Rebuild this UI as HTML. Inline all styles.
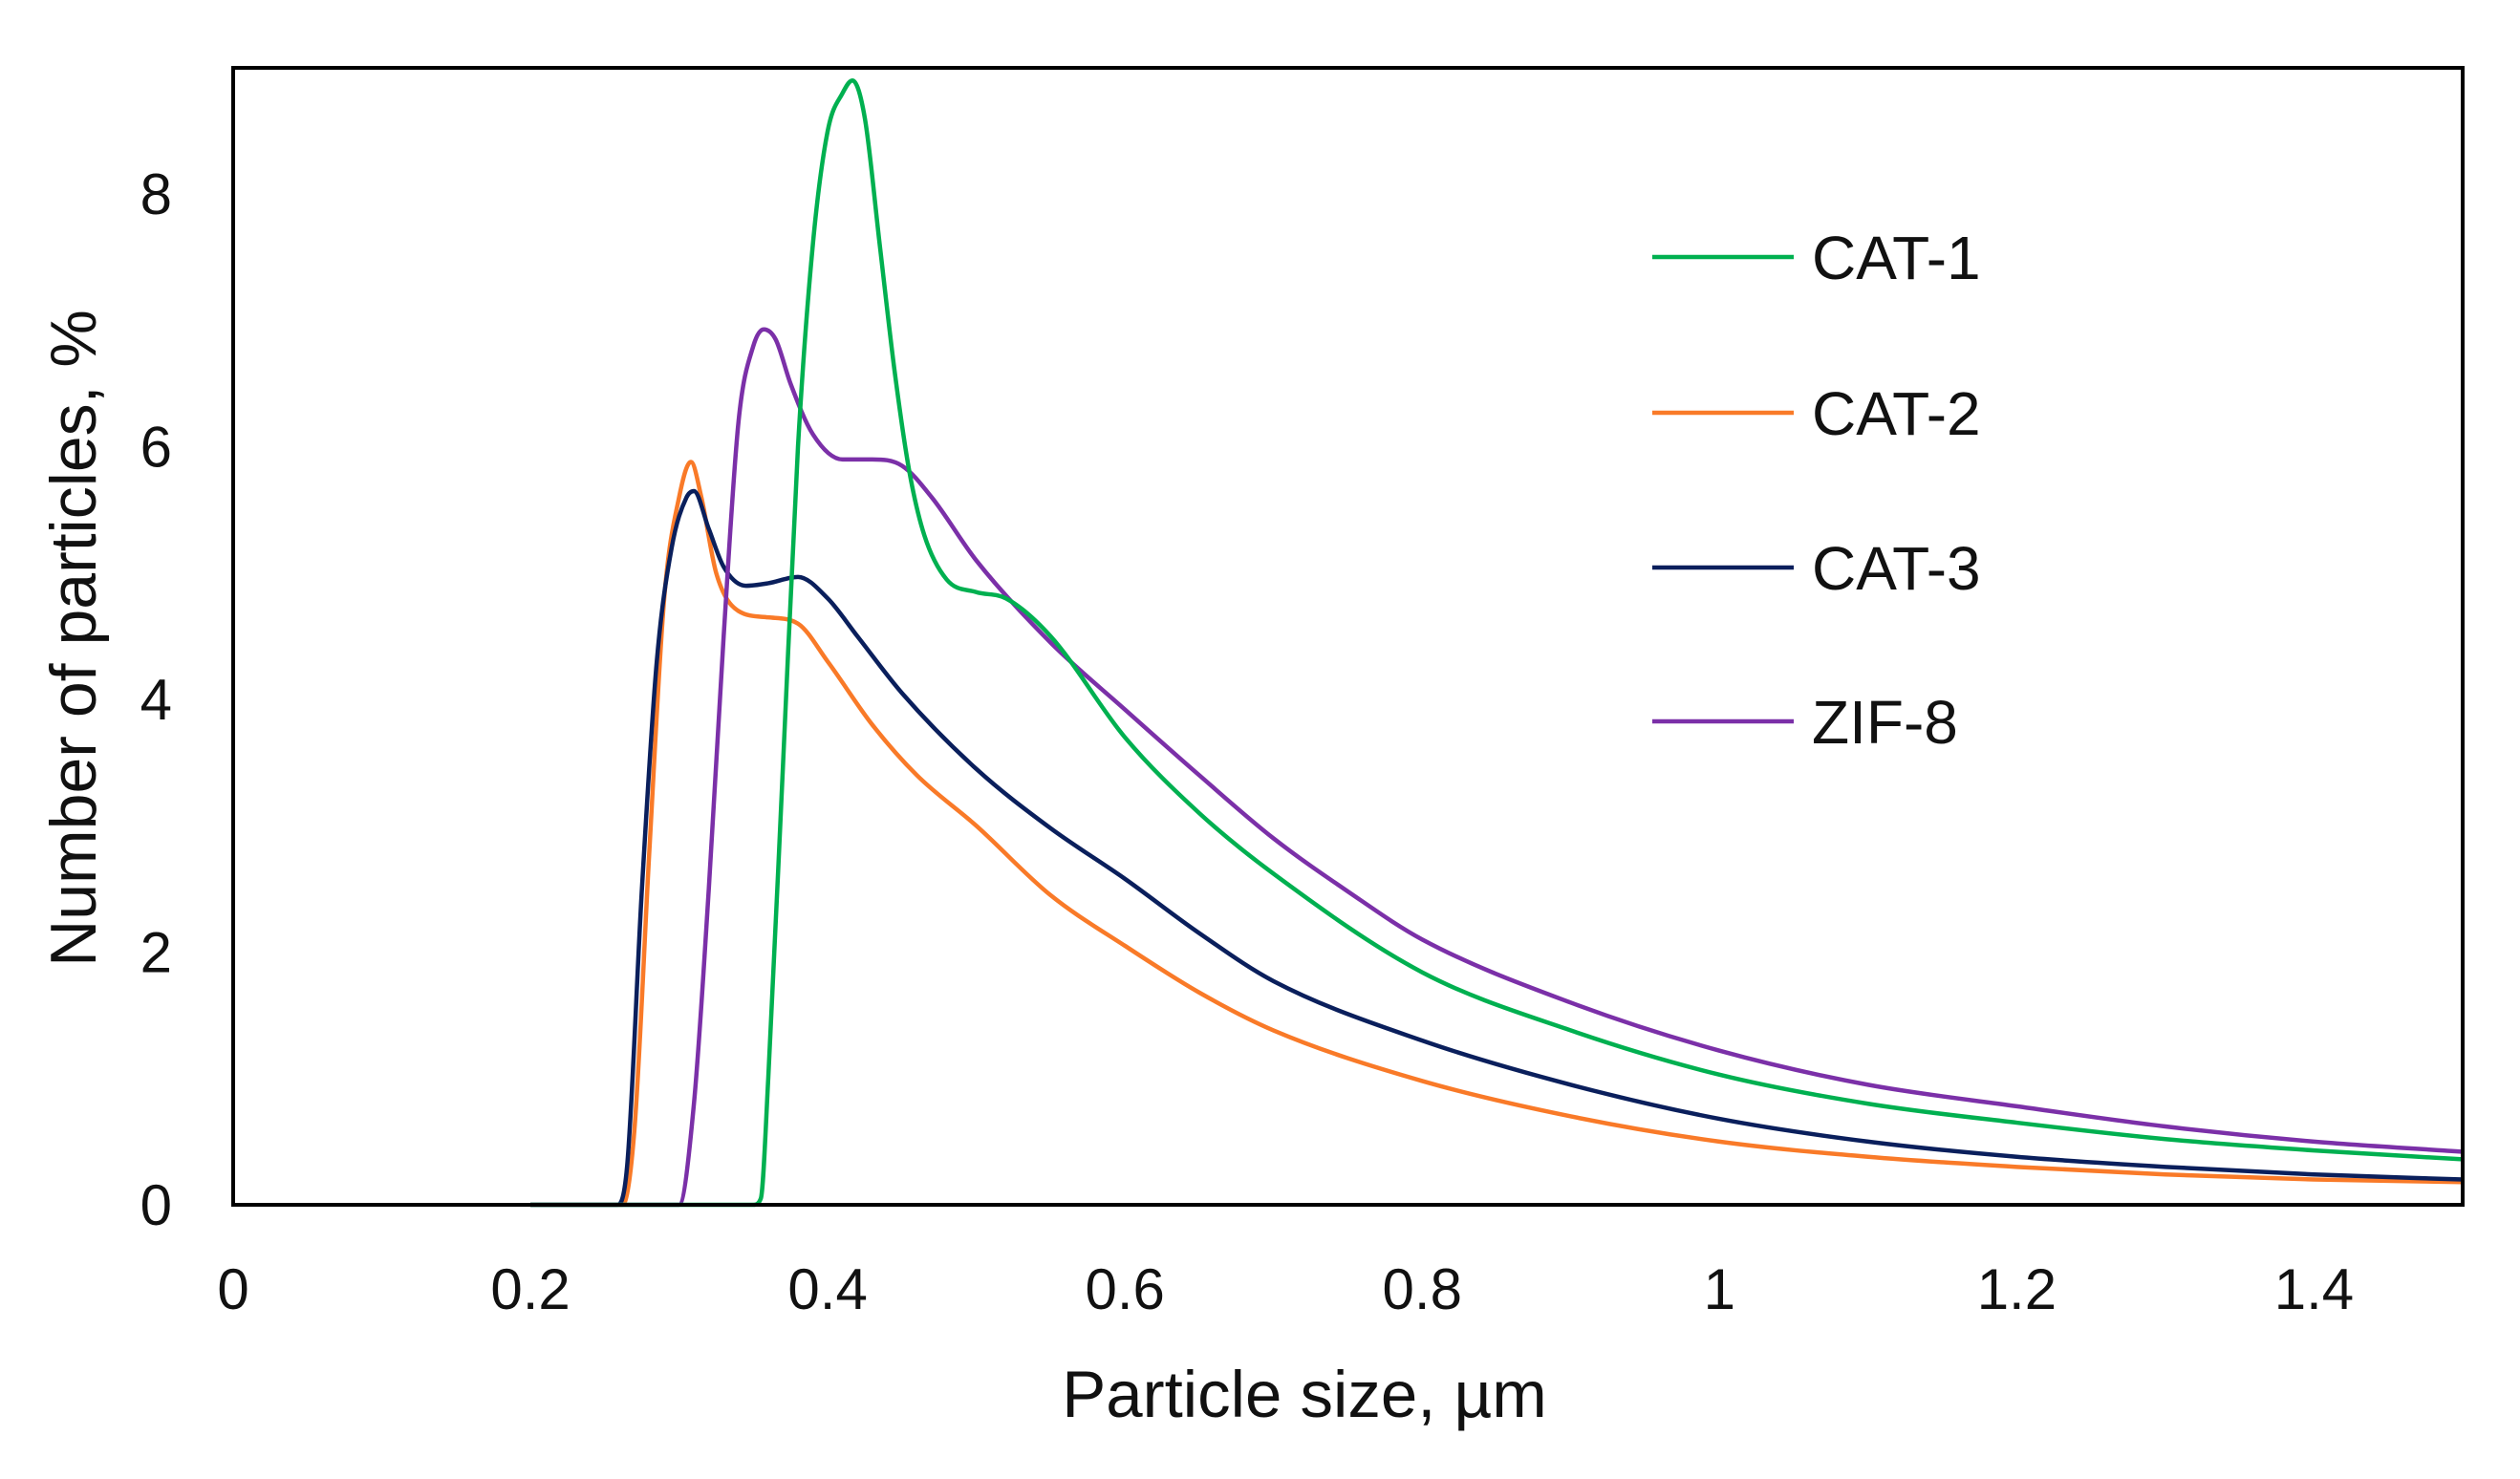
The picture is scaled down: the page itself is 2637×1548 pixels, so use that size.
<!DOCTYPE html>
<html><head><meta charset="utf-8"><style>
html,body{margin:0;padding:0;background:#fff;}
svg{display:block;font-family:"Liberation Sans",sans-serif;}
</style></head><body>
<svg id="chart" width="2637" height="1548" viewBox="0 0 2637 1548">
<g id="series"></g>
<rect x="244" y="71" width="2333" height="1190" fill="none" stroke="#000" stroke-width="4"/>
<g id="xticks" font-size="60" text-anchor="middle" fill="#111"></g>
<g id="yticks" font-size="60" text-anchor="end" fill="#111"></g>
<text x="1365" y="1483" font-size="69" text-anchor="middle" fill="#111">Particle size, µm</text>
<text transform="translate(100,668) rotate(-90)" font-size="68" text-anchor="middle" fill="#111">Number of particles, %</text>
<g id="legend"></g>
</svg>
<script>
const xTicks=[0,0.2,0.4,0.6,0.8,1,1.2,1.4];
const xTickLabels=["0","0.2","0.4","0.6","0.8","1","1.2","1.4"];
const yTicks=[0,2,4,6,8];
const seriesNames=["CAT-1","CAT-2","CAT-3","ZIF-8"];
const seriesColors=["#00b050","#f97a28","#0a1f5c","#7b30a8"];
const cat1X=[0.2,0.35,0.355,0.36,0.37,0.38,0.39,0.40,0.41,0.4167,0.425,0.435,0.445,0.455,0.465,0.48,0.5,0.52,0.55,0.6,0.65,0.7,0.8,0.9,1.0,1.1,1.2,1.3,1.4,1.5];
const cat1Y=[0,0,0.05,1,3.5,6,7.6,8.5,8.8,8.9,8.6,7.6,6.6,5.8,5.3,4.95,4.85,4.8,4.5,3.7,3.1,2.62,1.84,1.38,1.03,0.8,0.65,0.52,0.43,0.36];
const cat2X=[0.2,0.262,0.27,0.28,0.29,0.30,0.308,0.315,0.325,0.34,0.36,0.38,0.4,0.43,0.46,0.5,0.55,0.6,0.65,0.7,0.8,0.9,1.0,1.1,1.2,1.3,1.4,1.5];
const cat2Y=[0,0,0.6,2.8,4.8,5.6,5.88,5.6,5.0,4.7,4.65,4.6,4.3,3.8,3.4,3.0,2.45,2.05,1.68,1.38,0.98,0.7,0.5,0.38,0.3,0.24,0.2,0.18];
const cat3X=[0.2,0.258,0.265,0.275,0.285,0.295,0.305,0.31,0.32,0.33,0.345,0.36,0.38,0.4,0.42,0.45,0.5,0.55,0.6,0.65,0.7,0.8,0.9,1.0,1.1,1.2,1.3,1.4,1.5];
const cat3Y=[0,0,0.3,2.5,4.3,5.2,5.6,5.65,5.35,5.05,4.9,4.92,4.97,4.8,4.5,4.05,3.45,2.98,2.58,2.15,1.77,1.3,0.95,0.68,0.5,0.38,0.3,0.24,0.2];
const zifX=[0.2,0.30,0.31,0.32,0.33,0.34,0.35,0.357,0.365,0.375,0.39,0.41,0.43,0.45,0.47,0.5,0.55,0.6,0.65,0.7,0.75,0.8,0.9,1.0,1.1,1.2,1.3,1.4,1.5];
const zifY=[0,0,0.8,2.5,4.5,6.2,6.8,6.93,6.85,6.5,6.1,5.9,5.9,5.85,5.6,5.1,4.45,3.92,3.4,2.9,2.48,2.1,1.6,1.22,0.95,0.78,0.62,0.5,0.42];
const allX=[cat1X,cat2X,cat3X,zifX];
const allY=[cat1Y,cat2Y,cat3Y,zifY];

const X0=244,X1=2577,Y0=1261,Y1=71,XMAX=1.5,YMAX=9;
const sx=v=>X0+v/XMAX*(X1-X0);
const sy=v=>Y0-v/YMAX*(Y0-Y1);
const NS="http://www.w3.org/2000/svg";
function mk(tag,parent){const e=document.createElementNS(NS,tag);parent.appendChild(e);return e;}

const xg=document.getElementById('xticks');
xTicks.forEach((t,i)=>{const e=mk('text',xg);e.setAttribute('x',sx(t));e.setAttribute('y',1370);e.textContent=xTickLabels[i];

});
const yg=document.getElementById('yticks');
yTicks.forEach(t=>{const e=mk('text',yg);e.setAttribute('x',180);e.setAttribute('y',sy(t)+21);e.textContent=String(t);

});

function monoPath(xs,ys){
  const p=xs.map((x,i)=>[sx(x),sy(ys[i])]);
  const n=p.length,d=[],m=new Array(n);
  for(let i=0;i<n-1;i++)d.push((p[i+1][1]-p[i][1])/(p[i+1][0]-p[i][0]));
  m[0]=d[0];m[n-1]=d[n-2];
  for(let i=1;i<n-1;i++){m[i]=(d[i-1]*d[i]<=0)?0:(d[i-1]+d[i])/2;}
  for(let i=0;i<n-1;i++){
    if(d[i]===0){m[i]=0;m[i+1]=0;continue;}
    const a=m[i]/d[i],b=m[i+1]/d[i],s=a*a+b*b;
    if(s>9){const t=3/Math.sqrt(s);m[i]=t*a*d[i];m[i+1]=t*b*d[i];}
  }
  let s="M"+p[0][0]+","+p[0][1];
  for(let i=0;i<n-1;i++){
    const h=(p[i+1][0]-p[i][0])/3;
    s+=" C"+(p[i][0]+h)+","+(p[i][1]+m[i]*h)+" "+(p[i+1][0]-h)+","+(p[i+1][1]-m[i+1]*h)+" "+p[i+1][0]+","+p[i+1][1];
  }
  return s;
}
const sg=document.getElementById('series');
const order=[1,2,3,0];
order.forEach(i=>{const e=mk('path',sg);e.setAttribute('d',monoPath(allX[i],allY[i]));
e.setAttribute('fill','none');e.setAttribute('stroke',seriesColors[i]);e.setAttribute('stroke-width','4.5');e.setAttribute('stroke-linejoin','round');

});

const lg=document.getElementById('legend');
const legY=[269,432,594,755];
seriesNames.forEach((n,i)=>{
  const l=mk('line',lg);l.setAttribute('x1',1729);l.setAttribute('x2',1877);l.setAttribute('y1',legY[i]);l.setAttribute('y2',legY[i]);
  l.setAttribute('stroke',seriesColors[i]);l.setAttribute('stroke-width','4.5');
  
  
  const t=mk('text',lg);t.setAttribute('x',1896);t.setAttribute('y',legY[i]+23);t.setAttribute('font-size','64');t.setAttribute('fill','#111');t.textContent=n;
  
  
});
</script>
</body></html>
